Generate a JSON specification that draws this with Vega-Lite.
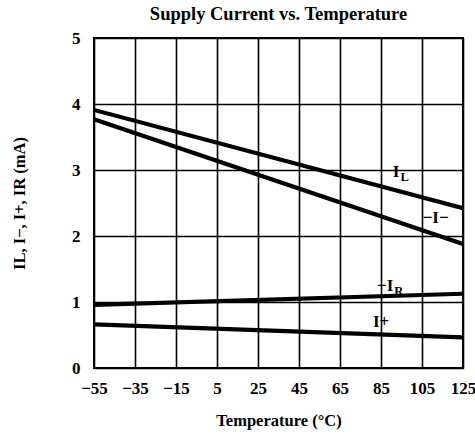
{
  "$schema": "https://vega.github.io/schema/vega-lite/v6.json",
  "width": 369,
  "height": 330,
  "autosize": {"type": "none"},
  "padding": {"left": 94, "top": 38, "right": 12, "bottom": 68},
  "background": "white",
  "title": {
    "text": "Supply Current vs. Temperature",
    "font": "Liberation Serif",
    "fontSize": 18.5,
    "fontWeight": "bold",
    "color": "black",
    "anchor": "middle",
    "offset": 6
  },
  "config": {
    "view": {"stroke": "black", "strokeWidth": 2},
    "axis": {
      "labelFont": "Liberation Serif",
      "labelFontSize": 17,
      "labelFontWeight": "bold",
      "labelColor": "black",
      "titleFont": "Liberation Serif",
      "titleFontSize": 16.5,
      "titleFontWeight": "bold",
      "titleColor": "black",
      "gridColor": "black",
      "gridWidth": 1.6,
      "gridOpacity": 1,
      "domain": false,
      "ticks": false
    }
  },
  "datasets": {
    "curves": [
      {"series": "IL", "temp": -55, "current": 3.91},
      {"series": "IL", "temp": 125, "current": 2.42},
      {"series": "-I-", "temp": -55, "current": 3.77},
      {"series": "-I-", "temp": 125, "current": 1.88},
      {"series": "-IR", "temp": -55, "current": 0.955},
      {"series": "-IR", "temp": 125, "current": 1.125},
      {"series": "I+", "temp": -55, "current": 0.66},
      {"series": "I+", "temp": 125, "current": 0.465}
    ],
    "labels": [
      {"temp": 94, "current": 2.9, "main": "I", "sub": "L"},
      {"temp": 118, "current": 2.19, "main": "−I−", "sub": ""},
      {"temp": 91, "current": 1.17, "main": "−I", "sub": "R"},
      {"temp": 89, "current": 0.62, "main": "I+", "sub": ""}
    ]
  },
  "layer": [
    {
      "data": {"name": "curves"},
      "mark": {"type": "line", "color": "black", "strokeWidth": 4.2, "clip": true},
      "encoding": {
        "x": {
          "field": "temp",
          "type": "quantitative",
          "scale": {"domain": [-55, 125], "nice": false, "zero": false},
          "axis": {
            "values": [-55, -35, -15, 5, 25, 45, 65, 85, 105, 125],
            "format": "d",
            "title": "Temperature (°C)",
            "labelPadding": 12,
            "titlePadding": 16,
            "labelFlush": false
          }
        },
        "y": {
          "field": "current",
          "type": "quantitative",
          "scale": {"domain": [0, 5], "nice": false},
          "axis": {
            "values": [0, 0.5, 1, 1.5, 2, 2.5, 3, 3.5, 4, 4.5, 5],
            "format": "d",
            "labelExpr": "datum.value % 1 === 0 ? datum.label : ''",
            "title": "IL, I−, I+, IR (mA)",
            "labelPadding": 14,
            "titlePadding": 44
          }
        },
        "detail": {"field": "series"}
      }
    },
    {
      "data": {"name": "labels"},
      "mark": {"type": "text", "font": "Liberation Serif", "fontSize": 17, "fontWeight": "bold", "color": "black", "align": "right", "baseline": "alphabetic"},
      "encoding": {
        "x": {"field": "temp", "type": "quantitative"},
        "y": {"field": "current", "type": "quantitative"},
        "text": {"field": "main"}
      }
    },
    {
      "data": {"name": "labels"},
      "mark": {"type": "text", "font": "Liberation Serif", "fontSize": 12.5, "fontWeight": "bold", "color": "black", "align": "left", "baseline": "alphabetic", "dx": 1, "dy": 4},
      "encoding": {
        "x": {"field": "temp", "type": "quantitative"},
        "y": {"field": "current", "type": "quantitative"},
        "text": {"field": "sub"}
      }
    }
  ]
}
